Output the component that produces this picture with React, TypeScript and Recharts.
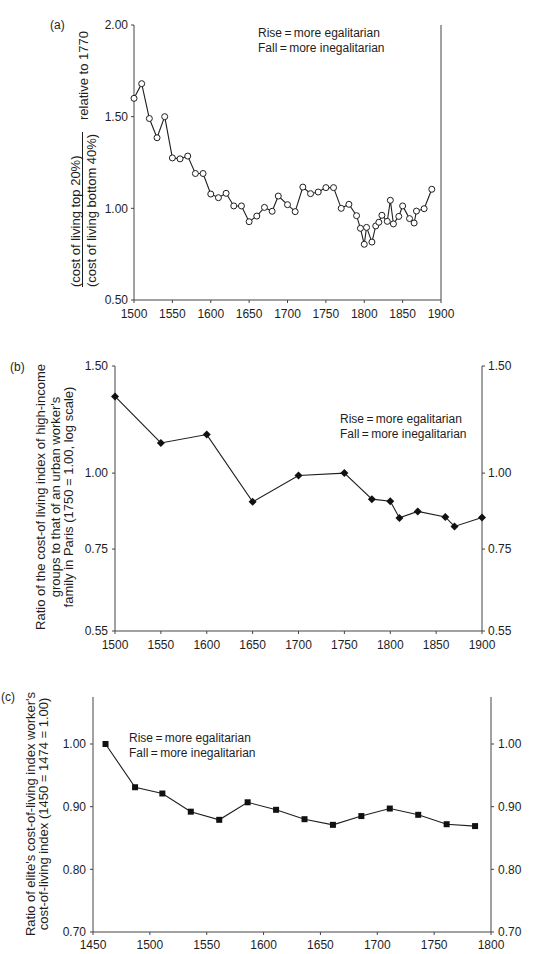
import { Label, Line, LineChart, XAxis, YAxis } from "recharts";

// (a) top 20% / bottom 40% cost-of-living ratio, relative to 1770
const yearsA = [
  1500, 1510, 1520, 1530, 1540, 1550, 1560, 1570, 1580, 1590, 1600, 1610, 1620,
  1630, 1640, 1650, 1660, 1670, 1680, 1688, 1700, 1710, 1720, 1730, 1740, 1750,
  1760, 1770, 1780, 1790, 1795, 1800, 1803, 1810, 1815, 1819, 1823, 1830, 1834,
  1838, 1845, 1850, 1859, 1865, 1868, 1878, 1888,
];
const ratioA = [
  1.6, 1.68, 1.49, 1.385, 1.5, 1.275, 1.27, 1.285, 1.19, 1.19, 1.078, 1.058,
  1.082, 1.013, 1.013, 0.927, 0.958, 1.005, 0.984, 1.067, 1.02, 0.982, 1.116,
  1.08, 1.089, 1.113, 1.113, 1.0, 1.022, 0.96, 0.891, 0.804, 0.896, 0.816, 0.904,
  0.924, 0.962, 0.929, 1.044, 0.915, 0.956, 1.013, 0.944, 0.92, 0.985, 0.998,
  1.104,
];
const ticksXA = [1500, 1550, 1600, 1650, 1700, 1750, 1800, 1850, 1900];
const ticksYA = [0.5, 1.0, 1.5, 2.0];

// (b) Paris, high-income groups vs urban worker's family (log scale)
const yearsB = [1500, 1550, 1600, 1650, 1700, 1750, 1780, 1800, 1810, 1830, 1860, 1870, 1900];
const ratioB = [1.337, 1.121, 1.157, 0.897, 0.991, 1.0, 0.906, 0.899, 0.844, 0.865, 0.847, 0.817, 0.845];
const ticksXB = [1500, 1550, 1600, 1650, 1700, 1750, 1800, 1850, 1900];
const ticksYB = [0.55, 0.75, 1.0, 1.5];

// (c) elite vs worker cost-of-living index
const yearsC = [1461, 1487, 1511, 1536, 1561, 1586, 1611, 1636, 1661, 1686, 1711, 1736, 1761, 1786];
const ratioC = [1.0, 0.931, 0.921, 0.892, 0.879, 0.907, 0.895, 0.88, 0.871, 0.885, 0.897, 0.887, 0.872, 0.869];
const ticksXC = [1450, 1500, 1550, 1600, 1650, 1700, 1750, 1800];
const ticksYC = [0.7, 0.8, 0.9, 1.0];

const noteLines = ["Rise\u2009=\u2009more egalitarian", "Fall\u2009=\u2009more inegalitarian"];

const FONT = "'Liberation Sans', Arial, Helvetica, sans-serif";
const INK = "#1e1e1e";
const AXIS = "#444";

const toRows = (years: number[], values: number[]) =>
  years.map((year, i) => ({ year, value: values[i] }));

const tickStyle = { fill: INK, fontSize: 12, fontFamily: FONT };
const fmt = (v: number) => v.toFixed(2);

const Diamond = (props: any) => {
  const { cx, cy, index } = props;
  if (cx == null || cy == null) return <g key={`d-${index}`} />;
  return (
    <path
      key={`d-${index}`}
      d={`M${cx},${cy - 4}L${cx + 4},${cy}L${cx},${cy + 4}L${cx - 4},${cy}Z`}
      fill="#111"
    />
  );
};

const Square = (props: any) => {
  const { cx, cy, index } = props;
  if (cx == null || cy == null) return <g key={`s-${index}`} />;
  return <rect key={`s-${index}`} x={cx - 3} y={cy - 3} width={6} height={6} fill="#111" />;
};

const Note = ({ x, y }: { x: number; y: number }) => (
  <g fontFamily={FONT} fontSize={12} fill={INK}>
    {noteLines.map((t, i) => (
      <text key={t} x={x} y={y + i * 15} dominantBaseline="central">
        {t}
      </text>
    ))}
  </g>
);

const Rot = ({ x, y, anchor = "middle", children }: any) => (
  <text
    x={x}
    y={y}
    transform={`rotate(-90 ${x} ${y})`}
    textAnchor={anchor}
    dominantBaseline="central"
    fontFamily={FONT}
    fontSize={13}
    fill={INK}
  >
    {children}
  </text>
);

const Letter = ({ x, y, children }: any) => (
  <text x={x} y={y} dominantBaseline="central" fontFamily={FONT} fontSize={12} fill={INK}>
    {children}
  </text>
);

function PanelA() {
  const data = toRows(yearsA, ratioA);
  return (
    <LineChart width={555} height={320} data={data} margin={{ top: 25, right: 0, bottom: 0, left: 0 }}>
      <XAxis
        dataKey="year"
        type="number"
        domain={[1500, 1900]}
        ticks={ticksXA}
        height={20}
        tickSize={3}
        tickMargin={6}
        tick={tickStyle}
        stroke={AXIS}
        interval={0}
      />
      <YAxis
        yAxisId="left"
        domain={[0.5, 2]}
        ticks={ticksYA}
        width={134}
        tickSize={3}
        tickMargin={3}
        tick={tickStyle}
        tickFormatter={fmt}
        stroke={AXIS}
        interval={0}
      >
        <Label
          content={() => (
            <g>
              <Letter x={50} y={25}>(a)</Letter>
              <Rot x={75} y={287} anchor="start">(cost of living top 20%)</Rot>
              <line x1={82.5} y1={287} x2={82.5} y2={132} stroke={INK} strokeWidth={1} />
              <Rot x={91} y={287} anchor="start">(cost of living bottom 40%)</Rot>
              <Rot x={83.5} y={120} anchor="start">relative to 1770</Rot>
              <Note x={258} y={33} />
            </g>
          )}
        />
      </YAxis>
      <YAxis
        yAxisId="right"
        orientation="right"
        domain={[0.5, 2]}
        ticks={ticksYA}
        width={114}
        tickSize={3}
        tickMargin={4}
        tick={tickStyle}
        tickFormatter={fmt}
        stroke={AXIS}
        interval={0}
      />
      <Line
        yAxisId="left"
        dataKey="value"
        stroke={INK}
        strokeWidth={1.1}
        dot={{ r: 3, fill: "#fff", stroke: INK, strokeWidth: 1 }}
        isAnimationActive={false}
      />
    </LineChart>
  );
}

function PanelB() {
  const data = toRows(yearsB, ratioB);
  return (
    <LineChart width={555} height={330} data={data} margin={{ top: 36, right: 0, bottom: 0, left: 0 }}>
      <XAxis
        dataKey="year"
        type="number"
        domain={[1500, 1900]}
        ticks={ticksXB}
        height={29}
        tickSize={3}
        tickMargin={6}
        tick={tickStyle}
        stroke={AXIS}
        interval={0}
      />
      <YAxis
        yAxisId="left"
        scale="log"
        domain={[0.55, 1.5]}
        ticks={ticksYB}
        width={115}
        tickSize={3}
        tickMargin={4}
        tick={tickStyle}
        tickFormatter={fmt}
        stroke={AXIS}
        interval={0}
        allowDataOverflow
      >
        <Label
          content={() => (
            <g>
              <Letter x={10} y={37}>(b)</Letter>
              <Rot x={40} y={167}>Ratio of the cost-of living index of high-income</Rot>
              <Rot x={55} y={167}>groups to that of an urban worker's</Rot>
              <Rot x={68.5} y={167}>family in Paris (1750 = 1.00, log scale)</Rot>
              <Note x={340} y={89} />
            </g>
          )}
        />
      </YAxis>
      <YAxis
        yAxisId="right"
        orientation="right"
        scale="log"
        domain={[0.55, 1.5]}
        ticks={ticksYB}
        width={73}
        tickSize={3}
        tickMargin={3}
        tick={tickStyle}
        tickFormatter={fmt}
        stroke={AXIS}
        interval={0}
        allowDataOverflow
      />
      <Line
        yAxisId="left"
        dataKey="value"
        stroke={INK}
        strokeWidth={1.1}
        dot={Diamond}
        isAnimationActive={false}
      />
    </LineChart>
  );
}

function PanelC() {
  const data = toRows(yearsC, ratioC);
  return (
    <LineChart width={555} height={294} data={data} margin={{ top: 37, right: 0, bottom: 0, left: 0 }}>
      <XAxis
        dataKey="year"
        type="number"
        domain={[1450, 1800]}
        ticks={ticksXC}
        height={22}
        tickSize={3}
        tickMargin={5}
        tick={tickStyle}
        stroke={AXIS}
        interval={0}
      />
      <YAxis
        yAxisId="left"
        domain={[0.7, 1.075]}
        ticks={ticksYC}
        width={93}
        tickSize={3}
        tickMargin={4}
        tick={tickStyle}
        tickFormatter={fmt}
        stroke={AXIS}
        interval={0}
        allowDataOverflow
      >
        <Label
          content={() => (
            <g>
              <Letter x={1} y={37}>(c)</Letter>
              <Rot x={30} y={154}>Ratio of elite's cost-of-living index worker's</Rot>
              <Rot x={43.5} y={154}>cost-of-living index (1450 = 1474 = 1.00)</Rot>
              <Note x={129} y={78} />
            </g>
          )}
        />
      </YAxis>
      <YAxis
        yAxisId="right"
        orientation="right"
        domain={[0.7, 1.075]}
        ticks={ticksYC}
        width={64}
        tickSize={3}
        tickMargin={4}
        tick={tickStyle}
        tickFormatter={fmt}
        stroke={AXIS}
        interval={0}
        allowDataOverflow
      />
      <Line
        yAxisId="left"
        dataKey="value"
        stroke={INK}
        strokeWidth={1.1}
        dot={Square}
        isAnimationActive={false}
      />
    </LineChart>
  );
}

export default function App() {
  return (
    <div style={{ position: "absolute", top: 0, left: 0, width: 555, height: 954, background: "#fff" }}>
      <div style={{ position: "absolute", top: 0, left: 0 }}>
        <PanelA />
      </div>
      <div style={{ position: "absolute", top: 330, left: 0 }}>
        <PanelB />
      </div>
      <div style={{ position: "absolute", top: 660, left: 0 }}>
        <PanelC />
      </div>
    </div>
  );
}
